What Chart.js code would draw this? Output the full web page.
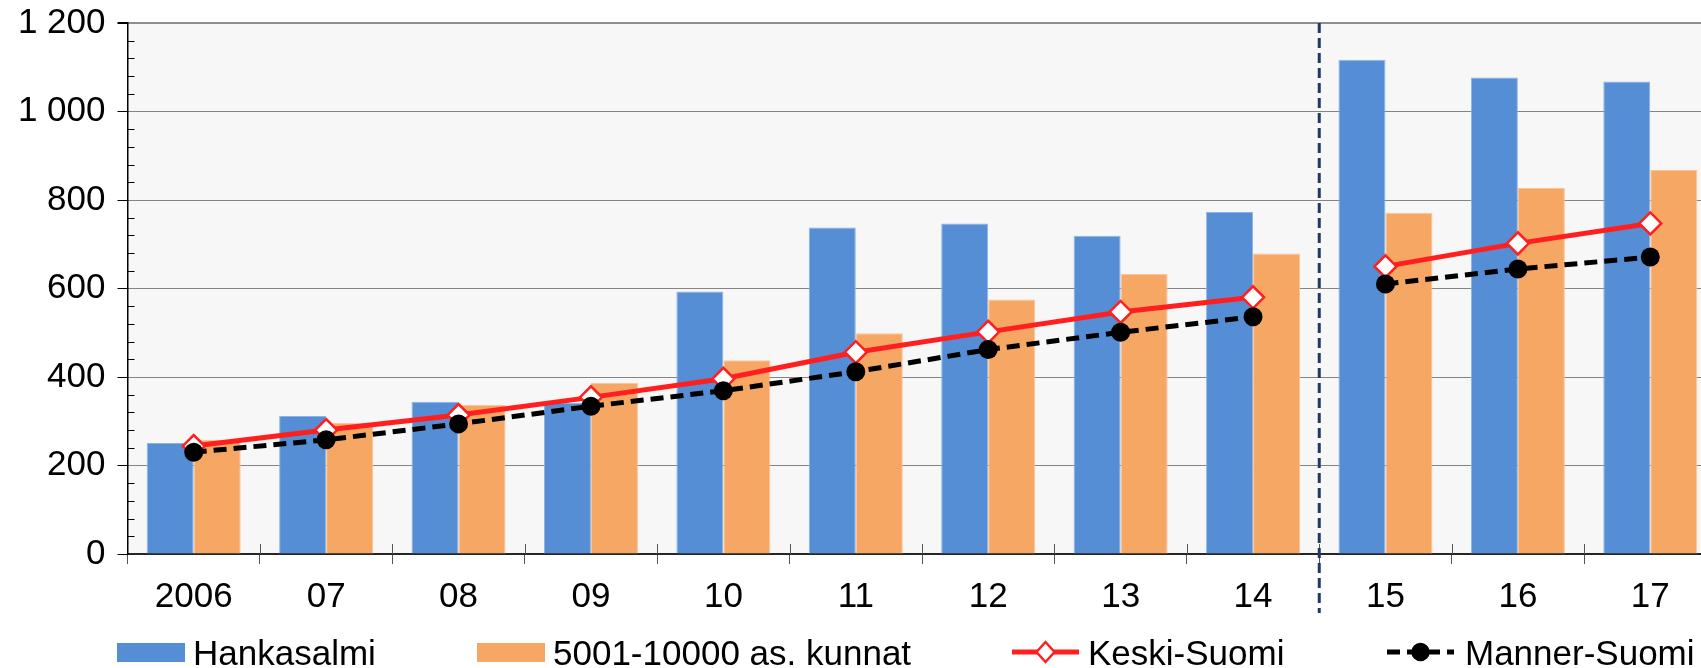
<!DOCTYPE html>
<html>

<head>
  <meta charset="utf-8" />
  <style>
    body { margin: 0; background: #fff; overflow: hidden; }
    #wrap { position: absolute; left: 0; top: 0; width: 1730px; height: 668px; }
  </style>
  <script src="https://cdn.jsdelivr.net/npm/chart.js"></script>
</head>

<body>
  <div id="wrap"><canvas id="chart" width="1730" height="668"></canvas></div>

<script type="text/javascript">

  // values
  var years = ['2006', '07', '08', '09', '10', '11', '12', '13', '14', '15', '16', '17'];
  var hankasalmi = [251, 312, 344, 341, 593, 738, 747, 719, 773, 1117, 1077, 1068];
  var kunnat = [258, 296, 337, 387, 438, 499, 575, 633, 679, 771, 827, 868];
  var keskiSuomi = [244, 280, 314, 354, 396, 456, 502, 547, 580, 650, 702, 747];
  var mannerSuomi = [230, 258, 294, 334, 369, 412, 462, 501, 536, 610, 644, 671];
  var yMax = 1200;
  var yStep = 200;
  var breakAfter = 8; // lines are broken between 14 and 15

  var FONT = '"Liberation Sans", Arial, sans-serif';
  var BLUE = '#558ED5';
  var ORANGE = '#F7A764';
  var RED = '#FF1F1F';

  function spaced(v) {
    var s = String(v);
    return s.length > 3 ? s.slice(0, -3) + ' ' + s.slice(-3) : s;
  }

  function gap(ctx) {
    return ctx.p0DataIndex === breakAfter ? 'rgba(0,0,0,0)' : undefined;
  }

  // plot background, minor ticks, separator, legend
  var decorations = {
    id: 'decorations',
    beforeDraw: function (chart) {
      var a = chart.chartArea, c = chart.ctx;
      c.save();
      c.fillStyle = '#F7F7F7';
      c.fillRect(a.left, a.top, a.right - a.left, a.bottom - a.top);
      c.restore();
    },
    afterDraw: function (chart) {
      var a = chart.chartArea, c = chart.ctx;
      var x = chart.scales.x, y = chart.scales.y;
      c.save();

      // minor ticks on the y axis, inside
      c.strokeStyle = '#000';
      c.lineWidth = 1;
      for (var v = 0; v <= yMax; v += yStep / 5) {
        if (v % yStep === 0) continue;
        var py = Math.round(y.getPixelForValue(v)) + 0.5;
        c.beginPath(); c.moveTo(a.left, py); c.lineTo(a.left + 7, py); c.stroke();
      }

      // x ticks, inner half
      c.strokeStyle = '#555';
      for (var i = 1; i <= years.length; i++) {
        var px = Math.round(x.getPixelForValue(i - 0.5)) + 0.5;
        c.beginPath(); c.moveTo(px, a.bottom - 10); c.lineTo(px, a.bottom); c.stroke();
      }

      // dashed separator between 14 and 15
      var sx = x.getPixelForValue(breakAfter + 0.5);
      c.strokeStyle = '#1F3864';
      c.lineWidth = 3;
      c.setLineDash([10, 5]);
      c.beginPath(); c.moveTo(sx, a.top); c.lineTo(sx, a.bottom + 59); c.stroke();
      c.setLineDash([]);

      // legend
      var ds = chart.data.datasets;
      var slots = [[117, 193], [477, 553], [1012, 1088], [1387, 1465]];
      var ly = 652;
      c.font = '35px ' + FONT;
      c.fillStyle = '#000';
      c.textBaseline = 'alphabetic';
      ds.forEach(function (d, k) {
        var bx = slots[k][0], tx = slots[k][1];
        if (d.type === 'bar') {
          c.fillStyle = d.backgroundColor;
          c.fillRect(bx, 643, 68, 19);
        } else {
          c.strokeStyle = d.borderColor;
          c.lineWidth = 5;
          c.setLineDash(d.borderDash || []);
          c.beginPath(); c.moveTo(bx, ly); c.lineTo(bx + 67, ly); c.stroke();
          c.setLineDash([]);
          var mx = bx + 33.5;
          c.beginPath();
          if (d.pointStyle === 'rectRot') {
            c.moveTo(mx, ly - 10); c.lineTo(mx + 9, ly); c.lineTo(mx, ly + 10); c.lineTo(mx - 9, ly); c.closePath();
          } else {
            c.arc(mx, ly, 8, 0, Math.PI * 2);
          }
          c.fillStyle = d.pointBackgroundColor;
          c.fill();
          c.lineWidth = 2.5;
          c.strokeStyle = d.pointBorderColor;
          c.stroke();
        }
        c.fillStyle = '#000';
        c.fillText(d.label, tx, 665);
      });
      c.restore();
    }
  };

  var chart = new Chart(document.getElementById('chart'), {
    data: {
      labels: years,
      datasets: [{
        type: 'bar',
        label: 'Hankasalmi',
        data: hankasalmi,
        backgroundColor: BLUE,
        borderColor: '#8DB4E6',
        borderWidth: { left: 1, right: 1, top: 1, bottom: 0 },
        categoryPercentage: 0.71,
        barPercentage: 1.0,
        order: 2
      }, {
        type: 'bar',
        label: '5001-10000 as. kunnat',
        data: kunnat,
        backgroundColor: ORANGE,
        borderColor: '#F9C49A',
        borderWidth: { left: 1, right: 1, top: 1, bottom: 0 },
        categoryPercentage: 0.71,
        barPercentage: 1.0,
        order: 2
      }, {
        type: 'line',
        label: 'Keski-Suomi',
        data: keskiSuomi,
        borderColor: RED,
        borderWidth: 5,
        pointStyle: 'rectRot',
        pointRadius: 11,
        pointBorderWidth: 2.5,
        pointBackgroundColor: '#fff',
        pointBorderColor: RED,
        segment: { borderColor: gap },
        order: 1
      }, {
        type: 'line',
        label: 'Manner-Suomi',
        data: mannerSuomi,
        borderColor: '#000',
        borderWidth: 5,
        borderDash: [13, 7],
        pointStyle: 'circle',
        pointRadius: 9.5,
        pointBorderWidth: 0,
        pointBackgroundColor: '#000',
        pointBorderColor: '#000',
        segment: { borderColor: gap },
        order: 0
      }]
    },
    options: {
      responsive: false,
      animation: false,
      layout: { padding: { top: 23, left: 0, right: 0, bottom: 0 } },
      plugins: {
        legend: { display: false },
        tooltip: { enabled: false }
      },
      scales: {
        x: {
          grid: { offset: true, drawOnChartArea: false, tickLength: 10, tickColor: '#555', tickWidth: 1 },
          border: { color: '#262626', width: 2 },
          ticks: { color: '#000', font: { family: FONT, size: 35 }, padding: 12, maxRotation: 0, autoSkip: false },
          afterFit: function (s) { s.height = 114; s.paddingLeft = 0; s.paddingRight = 0; }
        },
        y: {
          min: 0,
          max: yMax,
          ticks: { stepSize: yStep, color: '#000', font: { family: FONT, size: 35 }, padding: 12, callback: spaced },
          grid: {
            color: function (ctx) { return ctx.tick && ctx.tick.value === yMax ? '#222' : '#111'; },
            lineWidth: function (ctx) { return ctx.tick && ctx.tick.value === yMax ? 2 : 1; },
            tickLength: 10,
            tickColor: '#000',
            tickBorderDash: []
          },
          border: { color: '#000', width: 1.5, dash: [1, 1] },
          afterFit: function (s) { s.width = 127.5; s.paddingTop = 0; s.paddingBottom = 0; }
        }
      }
    },
    plugins: [decorations]
  });
</script>

</body>

</html>
